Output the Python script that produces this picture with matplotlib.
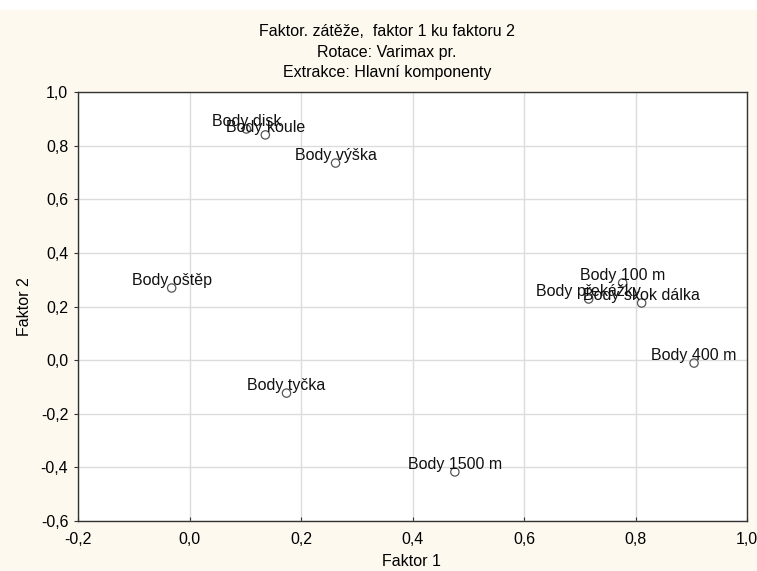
import matplotlib
matplotlib.use("Agg")
import matplotlib.pyplot as plt
from matplotlib.patches import Rectangle

labels = ["Body disk", "Body koule", "Body výška", "Body oštěp", "Body tyčka",
          "Body 1500 m", "Body 100 m", "Body překážky", "Body skok dálka", "Body 400 m"]
factor1 = [0.102, 0.136, 0.262, -0.032, 0.174, 0.476, 0.777, 0.716, 0.811, 0.905]
factor2 = [0.862, 0.840, 0.735, 0.269, -0.123, -0.417, 0.288, 0.228, 0.213, -0.011]

xticks = [-0.2, 0.0, 0.2, 0.4, 0.6, 0.8, 1.0]
yticks = [-0.6, -0.4, -0.2, 0.0, 0.2, 0.4, 0.6, 0.8, 1.0]

plt.rcParams['font.family'] = ['Liberation Sans', 'DejaVu Sans']
FS = 11.5

W, H = 757, 571
fig = plt.figure(figsize=(W / 100, H / 100), dpi=100, facecolor='white')
fig.patches.append(Rectangle((0, 0), 1, 1 - 10 / H, transform=fig.transFigure,
                             facecolor='#fdf9ef', edgecolor='none', zorder=-10))

ax = fig.add_axes([78 / W, 1 - 521 / H, (747 - 78) / W, (521 - 92) / H])
ax.set_facecolor('white')
ax.set_xlim(-0.2, 1.0)
ax.set_ylim(-0.6, 1.0)
ax.set_xticks(xticks)
ax.set_yticks(yticks)
fmt = lambda v: f"{v:.1f}".replace('.', ',').replace('-0,0', '0,0')
ax.set_xticklabels([fmt(v) for v in xticks])
ax.set_yticklabels([fmt(v) for v in yticks])
ax.tick_params(axis='both', labelsize=FS, length=3, width=0.8, color='#333333')
ax.tick_params(axis='x', direction='in', pad=8)
ax.tick_params(axis='y', direction='out', pad=4)
ax.grid(True, color='#dcdcdc', linewidth=1.0)
ax.set_axisbelow(True)
for s in ax.spines.values():
    s.set_color('#333333')
    s.set_linewidth(1.0)

ax.scatter(factor1, factor2, s=36, facecolors='none', edgecolors='#555555', linewidths=0.9, zorder=3)
for lab, x, y in zip(labels, factor1, factor2):
    ax.annotate(lab, (x, y), xytext=(0, 3), textcoords='offset pixels',
                ha='center', va='baseline', fontsize=FS, color='#111111', zorder=4)

fig.text(411 / W, 1 - 562 / H, "Faktor 1", ha='center', va='center', fontsize=FS)
ax.set_ylabel("Faktor 2", fontsize=FS, labelpad=6)
cx = 387 / W
fig.text(cx, 1 - 32 / H, "Faktor. zátěže,  faktor 1 ku faktoru 2",
         ha='center', va='center', fontsize=FS)
fig.text(cx, 1 - 52 / H, "Rotace: Varimax pr.", ha='center', va='center', fontsize=FS)
fig.text(cx, 1 - 72 / H, "Extrakce: Hlavní komponenty", ha='center', va='center', fontsize=FS)

fig.savefig("out.png", dpi=100, facecolor=fig.get_facecolor())
